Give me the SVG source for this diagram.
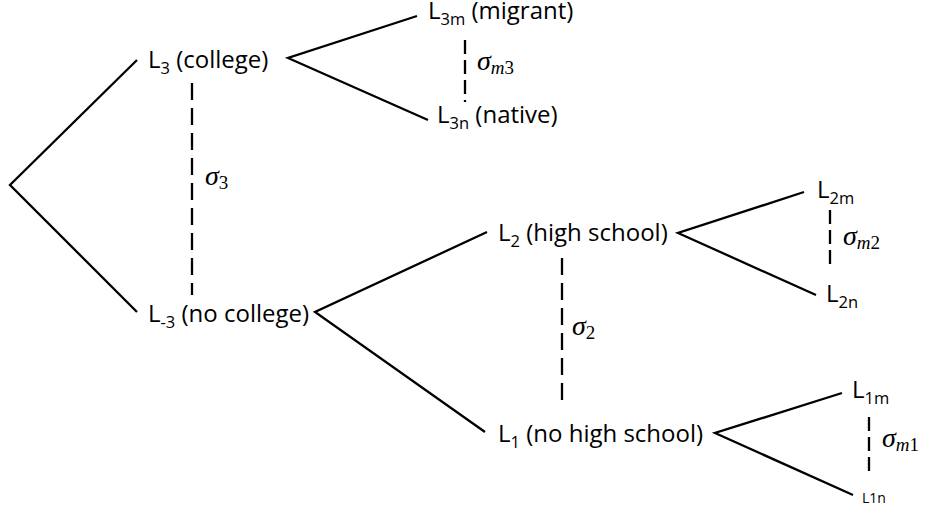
<svg xmlns="http://www.w3.org/2000/svg" width="927" height="514" viewBox="0 0 927 514">
<style>
.t{font-family:"Open Sans",Lato,"Liberation Sans",sans-serif;font-size:24px;fill:#000}
.s{font-size:16.5px}
.g{font-family:"Liberation Serif","DejaVu Serif",serif;font-size:28px;fill:#000}
.gi{font-style:italic}
.gs{font-size:19px}
.e{stroke:#000;stroke-width:2.3;fill:none;stroke-linecap:butt}
.d{stroke:#000;stroke-width:2.3;fill:none;stroke-dasharray:17 8}
</style>
<rect width="927" height="514" fill="#fff"/>
<g id="connectors">
<polyline class="e" points="137,60 10,185 137,312"/>
<polyline class="e" points="417,16 288,58 428,120"/>
<polyline class="e" points="487,232 315,312 485,432"/>
<polyline class="e" points="804,192 678,233 816,295"/>
<polyline class="e" points="842,393 715,433 853,495"/>
<line class="d" x1="192" y1="83" x2="192" y2="295"/>
<line class="d" x1="465" y1="40" x2="465" y2="102" style="stroke-dasharray:14 6"/>
<line class="d" x1="562" y1="258" x2="562" y2="402"/>
<line class="d" x1="830" y1="210" x2="830" y2="270" style="stroke-dasharray:14 6"/>
<line class="d" x1="869" y1="417" x2="869" y2="477" style="stroke-dasharray:14 6"/>
</g>
<g id="sigma3"><text class="g" x="205" y="185"><tspan class="gi">σ</tspan><tspan class="gs" dy="4">3</tspan></text></g>
<g id="sigmam3"><text class="g" x="477" y="70"><tspan class="gi">σ</tspan><tspan class="gs gi" dy="4">m</tspan><tspan class="gs">3</tspan></text></g>
<g id="sigma2"><text class="g" x="572" y="335"><tspan class="gi">σ</tspan><tspan class="gs" dy="4">2</tspan></text></g>
<g id="sigmam2"><text class="g" x="843" y="245"><tspan class="gi">σ</tspan><tspan class="gs gi" dy="4">m</tspan><tspan class="gs">2</tspan></text></g>
<g id="sigmam1"><text class="g" x="882" y="447"><tspan class="gi">σ</tspan><tspan class="gs gi" dy="4">m</tspan><tspan class="gs">1</tspan></text></g>
<g id="L3"><text class="t" x="148" y="68">L<tspan class="s" dy="6">3</tspan><tspan dy="-6"> (college)</tspan></text></g>
<g id="L3m"><text class="t" x="428" y="19">L<tspan class="s" dy="6">3m</tspan><tspan dy="-6"> (migrant)</tspan></text></g>
<g id="L3n"><text class="t" x="437" y="123">L<tspan class="s" dy="6">3n</tspan><tspan dy="-6"> (native)</tspan></text></g>
<g id="Lm3"><text class="t" x="148" y="322">L<tspan class="s" dy="6">-3</tspan><tspan dy="-6"> (no college)</tspan></text></g>
<g id="L2"><text class="t" x="498" y="241">L<tspan class="s" dy="6">2</tspan><tspan dy="-6"> (high school)</tspan></text></g>
<g id="L1"><text class="t" x="498" y="442">L<tspan class="s" dy="6">1</tspan><tspan dy="-6"> (no high school)</tspan></text></g>
<g id="L2m"><text class="t" x="817" y="198">L<tspan class="s" dy="6">2m</tspan></text></g>
<g id="L2n"><text class="t" x="826" y="302">L<tspan class="s" dy="6">2n</tspan></text></g>
<g id="L1m"><text class="t" x="852" y="398">L<tspan class="s" dy="6">1m</tspan></text></g>
<g id="L1n"><text class="t" x="862" y="503" style="font-size:14px">L1n</text></g>
</svg>
